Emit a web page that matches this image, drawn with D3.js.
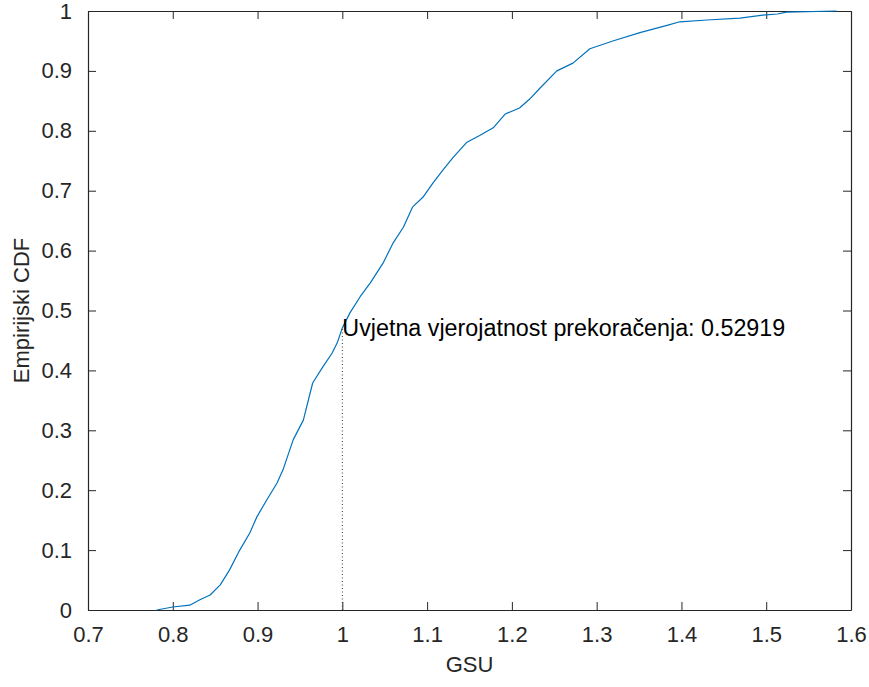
<!DOCTYPE html>
<html>
<head>
<meta charset="utf-8">
<script src="https://cdn.jsdelivr.net/npm/d3@7"></script>
<style>
  html, body { margin: 0; padding: 0; background: #fff; }
  svg { display: block; }
  text { font-family: "Liberation Sans", Arial, Helvetica, sans-serif; }
</style>
</head>
<body>
<svg id="chart" width="869" height="687"></svg>
<script>
// ---- data ----
const gsu = [0.781, 0.800, 0.820, 0.832, 0.844, 0.856, 0.867, 0.879, 0.891, 0.899,
             0.911, 0.923, 0.930, 0.942, 0.954, 0.965, 0.977, 0.988, 0.994, 1.000,
             1.009, 1.021, 1.033, 1.048, 1.060, 1.072, 1.083, 1.095, 1.107, 1.119,
             1.131, 1.147, 1.162, 1.178, 1.192, 1.209, 1.221, 1.233, 1.253, 1.272,
             1.292, 1.319, 1.351, 1.383, 1.398, 1.430, 1.469, 1.496, 1.513, 1.524, 1.583];
const cdf = [0, 0.005, 0.008, 0.017, 0.025, 0.042, 0.067, 0.100, 0.129, 0.155,
             0.184, 0.212, 0.234, 0.284, 0.317, 0.379, 0.406, 0.429, 0.446, 0.471,
             0.496, 0.523, 0.546, 0.579, 0.613, 0.639, 0.673, 0.689, 0.713, 0.735,
             0.756, 0.781, 0.792, 0.805, 0.828, 0.838, 0.853, 0.871, 0.900, 0.913,
             0.937, 0.950, 0.964, 0.976, 0.982, 0.985, 0.988, 0.993, 0.995, 0.998, 1.0];
const xTicks = [0.7, 0.8, 0.9, 1.0, 1.1, 1.2, 1.3, 1.4, 1.5, 1.6];
const xTickLabels = ["0.7", "0.8", "0.9", "1", "1.1", "1.2", "1.3", "1.4", "1.5", "1.6"];
const yTicks = [0, 0.1, 0.2, 0.3, 0.4, 0.5, 0.6, 0.7, 0.8, 0.9, 1.0];
const yTickLabels = ["0", "0.1", "0.2", "0.3", "0.4", "0.5", "0.6", "0.7", "0.8", "0.9", "1"];
const threshold = 1.0;
const cdfAtThreshold = 0.47081;
const annotation = "Uvjetna vjerojatnost prekoračenja: 0.52919";
const xLabel = "GSU";
const yLabel = "Empirijski CDF";

(function () {
  // ---- layout ----
  const L = 88, R = 851, T = 11, B = 610;
  const axisColor = "#262626";
  const fs = 22;
  const svg = d3.select("#chart");
  const x = d3.scaleLinear().domain([0.7, 1.6]).range([L, R]);
  const y = d3.scaleLinear().domain([0, 1]).range([B, T]);
  const tl = 8;

  const gB = svg.append("g").attr("transform", `translate(0,${B})`)
    .call(d3.axisBottom(x).tickValues(xTicks).tickFormat((d, i) => xTickLabels[i]).tickSizeInner(-tl).tickSizeOuter(0).tickPadding(tl + 8));
  const gT = svg.append("g").attr("transform", `translate(0,${T})`)
    .call(d3.axisTop(x).tickValues(xTicks).tickFormat("").tickSizeInner(-tl).tickSizeOuter(0));
  const gL = svg.append("g").attr("transform", `translate(${L},0)`)
    .call(d3.axisLeft(y).tickValues(yTicks).tickFormat((d, i) => yTickLabels[i]).tickSizeInner(-tl).tickSizeOuter(0).tickPadding(tl + 8));
  const gR = svg.append("g").attr("transform", `translate(${R},0)`)
    .call(d3.axisRight(y).tickValues(yTicks).tickFormat("").tickSizeInner(-tl).tickSizeOuter(0));

  [gB, gT, gL, gR].forEach(g => {
    g.select(".domain").attr("stroke", axisColor).attr("stroke-width", 1.2);
    g.selectAll(".tick line").attr("stroke", axisColor).attr("stroke-width", 1);
    g.selectAll(".tick text").attr("fill", axisColor)
      .style("font-family", '"Liberation Sans", Arial, sans-serif').style("font-size", fs + "px");
  });

  // curve
  const line = d3.line().x((d, i) => x(gsu[i])).y((d, i) => y(cdf[i]));
  svg.append("path").datum(gsu)
    .attr("d", line)
    .attr("fill", "none")
    .attr("stroke", "#0072BD")
    .attr("stroke-width", 1.2)
    .attr("stroke-linejoin", "round");

  // dotted threshold line
  svg.append("line")
    .attr("x1", x(threshold)).attr("x2", x(threshold))
    .attr("y1", y(0)).attr("y2", y(cdfAtThreshold))
    .attr("stroke", "#333").attr("stroke-width", 1)
    .attr("stroke-dasharray", "1,2.5");

  // annotation
  svg.append("text")
    .attr("x", x(threshold)).attr("y", y(cdfAtThreshold))
    .attr("dy", "0.35em")
    .attr("fill", "#000")
    .style("font-size", "23.3px")
    .text(annotation);

  // axis labels
  svg.append("text")
    .attr("x", (L + R) / 2).attr("y", 672)
    .attr("text-anchor", "middle").attr("fill", axisColor)
    .style("font-size", fs + "px")
    .text(xLabel);
  svg.append("text")
    .attr("transform", `translate(29,${(T + B) / 2}) rotate(-90)`)
    .attr("text-anchor", "middle").attr("fill", axisColor)
    .style("font-size", fs + "px")
    .text(yLabel);
})();
</script>
</body>
</html>
